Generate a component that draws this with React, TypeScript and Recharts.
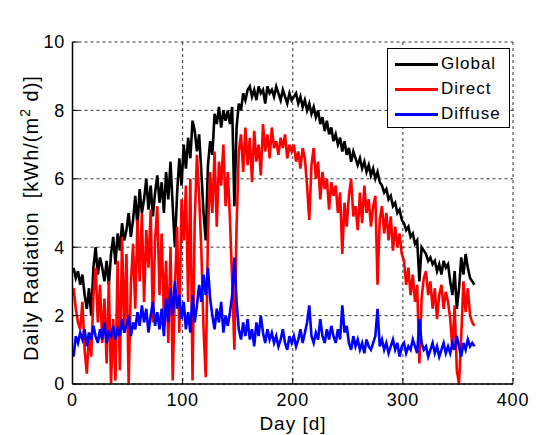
import { LineChart, Line, XAxis, YAxis, CartesianGrid } from "recharts";

// days sampled every second day (1, 3, ..., 365)
const days = Array.from({ length: 183 }, (_, i) => 2 * i + 1);

// Global radiation [kWh/(m2 d)]
const globalRad = [
  3.4, 3.1, 3.3, 2.9, 3.2, 2.6, 2.2, 2.8, 2.0, 3.4,
  4.0, 3.2, 3.7, 3.4, 3.0, 3.6, 2.9, 3.8, 4.3, 3.5,
  4.4, 3.9, 4.7, 4.2, 4.5, 5.0, 4.3, 4.8, 5.5, 4.6,
  5.7, 5.0, 5.4, 6.0, 5.1, 5.8, 4.9, 5.6, 6.1, 5.3,
  5.9, 5.0, 6.2, 5.4, 6.5, 5.2, 4.0, 5.6, 6.6, 5.8,
  7.0, 6.3, 7.2, 6.6, 7.7, 7.4, 6.8, 7.3, 6.2, 5.0,
  4.2, 6.4, 7.1, 6.7, 7.9, 7.6, 8.1, 7.5, 8.0, 7.7,
  8.0, 7.6, 8.1, 5.2, 7.5, 8.2, 8.0, 8.5, 8.3, 8.6,
  8.7, 8.4, 8.6, 8.3, 8.7, 8.5, 8.6, 8.2, 8.7, 8.5,
  8.6, 8.4, 8.7, 8.5, 8.3, 8.6, 8.4, 8.2, 8.5, 8.3,
  8.4, 8.5, 8.2, 8.4, 8.1, 8.3, 8.0, 8.2, 7.9, 8.1,
  7.8, 8.0, 7.6, 7.8, 7.4, 7.7, 7.3, 7.5, 7.1, 7.3,
  7.0, 7.2, 6.8, 7.1, 6.7, 6.9, 6.5, 6.8, 6.6, 6.4,
  6.6, 6.3, 6.5, 6.2, 6.4, 6.1, 6.3, 6.0, 6.2, 5.9,
  5.8, 5.6, 5.7, 5.4, 5.5, 5.2, 5.3, 5.0, 5.1, 4.8,
  4.7, 4.5, 4.6, 4.3, 4.4, 4.1, 4.2, 3.0, 4.0, 3.9,
  3.8, 3.6, 3.7, 3.5, 3.6, 3.3, 3.5, 3.2, 3.6, 3.4,
  3.5, 3.0, 2.6, 3.3, 2.2, 2.8, 3.7, 3.2, 3.8, 3.4,
  3.1, 3.0, 2.9,
];

// Direct radiation
const directRad = [
  2.8, 2.2, 1.8, 1.6, 2.4, 1.0, 0.3, 1.5, 0.8, 2.6,
  3.4, 1.8, 2.9, 1.2, 2.5, 0.6, 3.0, 0.0, 1.9, 0.1,
  3.6, 0.4, 4.3, 1.5, 3.8, 0.0, 2.9, 4.1, 2.2, 4.8,
  3.0, 5.0, 2.4, 4.5, 3.4, 5.1, 1.8, 4.2, 5.2, 2.6,
  4.4, 2.0, 3.6, 1.2, 4.0, 0.1, 2.8, 4.6, 1.5, 5.4,
  4.2, 5.8, 2.4, 6.0, 0.1, 4.8, 6.7, 5.5, 3.9, 1.6,
  0.2, 4.4, 6.2, 5.0, 6.8, 4.6, 6.5, 5.8, 7.0, 5.2,
  6.2, 4.8, 3.0, 1.0, 4.6, 6.8, 7.3, 6.2, 7.5, 6.4,
  7.2, 5.9, 7.4, 6.5, 7.0, 6.1, 7.6, 6.8, 7.3, 6.6,
  7.5, 6.9, 7.1, 6.7, 7.2, 6.9, 7.3, 6.6, 7.0, 6.8,
  7.0, 6.5, 6.8, 6.3, 6.9, 6.6, 5.8, 4.8, 6.4, 6.9,
  6.0, 6.5, 5.4, 6.2, 5.7, 6.0, 5.1, 5.9, 5.5, 5.8,
  5.0, 5.6, 3.8, 5.3, 4.6, 5.5, 6.0, 4.9, 5.2, 4.5,
  5.6, 4.7, 5.8, 5.0, 5.4, 4.6, 5.2, 5.5, 2.9, 4.8,
  5.2, 4.4, 5.0, 4.2, 4.9, 3.9, 4.6, 4.0, 4.4, 3.8,
  3.6, 2.9, 3.4, 2.6, 3.2, 2.4, 2.9, 0.6, 2.5, 3.1,
  3.3, 2.6, 3.0, 2.2, 2.8, 1.9, 2.6, 2.9, 2.2, 2.7,
  2.4, 1.9, 1.0, 2.3, 0.4, 0.0, 1.4, 3.0, 2.1, 2.8,
  2.0, 1.8, 1.7,
];

// Diffuse radiation
const diffuseRad = [
  0.8, 1.4, 1.2, 1.5, 1.3, 1.6, 1.1, 1.5, 1.3, 1.7,
  1.4, 1.2, 1.6, 1.3, 1.8, 1.2, 1.5, 1.4, 1.7, 1.3,
  1.6, 1.4, 1.9, 1.5, 1.7, 2.0, 1.4, 1.8, 1.6, 2.1,
  1.7, 2.3, 1.8, 2.2, 1.5, 2.0, 2.4, 1.7, 2.1, 1.6,
  2.2, 1.4, 2.5, 1.8, 2.8, 2.0, 3.0, 2.2, 2.6, 1.9,
  2.4, 1.6, 2.1, 1.5, 2.6, 1.8, 2.3, 2.9, 2.4, 3.2,
  2.6, 3.4, 2.5, 2.0, 1.6, 2.2, 1.8, 2.4, 1.5, 2.0,
  1.7, 2.1, 2.6, 3.7, 2.4, 1.6, 1.3, 1.8, 1.4, 1.9,
  1.3, 1.6, 1.1, 1.8, 1.4, 2.0, 1.5, 1.2, 1.6, 1.3,
  1.5, 1.2, 1.4, 1.1, 1.3, 1.6, 1.2, 1.0, 1.4, 1.2,
  1.4, 1.1, 1.3, 1.6, 1.2, 1.5, 1.8, 2.3, 1.4, 1.2,
  1.5, 1.3, 1.9, 1.4, 1.2, 1.6, 1.3, 1.7, 1.4, 1.2,
  1.6, 1.3, 2.3, 1.5, 1.7, 1.2, 1.0, 1.4, 1.1, 1.3,
  1.0, 1.2, 0.9, 1.3, 1.1, 1.0, 1.2, 1.4, 2.2, 1.1,
  1.3, 1.0, 1.2, 0.9, 1.1, 1.3, 1.0, 1.2, 0.8, 1.1,
  1.2, 0.9, 1.1, 1.0, 1.3, 1.1, 0.9, 1.9, 1.2, 1.0,
  1.1, 0.8, 1.0, 1.2, 0.9, 1.1, 0.8, 1.0, 1.2, 0.9,
  1.1, 0.9, 1.2, 1.0, 1.4, 1.1, 0.8, 1.2, 1.0, 1.3,
  1.1, 1.2, 1.1,
];

const xTicks = [0, 100, 200, 300, 400];
const yTicks = [0, 2, 4, 6, 8, 10];

const series = [
  { key: "global", name: "Global", color: "#000000" },
  { key: "direct", name: "Direct", color: "#ff0000" },
  { key: "diffuse", name: "Diffuse", color: "#0000ff" },
];

const data = days.map((day, i) => ({
  day,
  global: globalRad[i],
  direct: directRad[i],
  diffuse: diffuseRad[i],
}));

const FONT = "'Liberation Sans', Arial, Helvetica, sans-serif";
const tickStyle = { fontSize: 18, fill: "#000", fontFamily: FONT, letterSpacing: 0.8 };

const YLabel = () => (
  <text
    x={38}
    y={218}
    transform="rotate(-90, 38, 218)"
    textAnchor="middle"
    fontSize={20}
    letterSpacing={1}
    fontFamily={FONT}
    fill="#000"
  >
    {"Daily Radiation\u00a0\u00a0[kWh/(m"}
    <tspan dy={-8} fontSize={14}>2</tspan>
    <tspan dy={8}>{"\u00a0d)]"}</tspan>
  </text>
);

const XLabel = () => (
  <text x={293} y={430} textAnchor="middle" fontSize={19} letterSpacing={1} fontFamily={FONT} fill="#000">
    Day [d]
  </text>
);

const Title = () => (
  <text x={291} y={28} textAnchor="middle" fontSize={16} letterSpacing={0.8} fontFamily={FONT} fill="#000">
    ζ=0° &amp; θ=0°
  </text>
);

export default function App() {
  return (
    <div style={{ position: "absolute", left: 0, top: 0, width: 536, height: 435, background: "#fff" }}>
      <LineChart
        width={536}
        height={435}
        data={data}
        margin={{ top: 42, right: 23, bottom: 0, left: 0 }}
      >
        <CartesianGrid stroke="#000" strokeWidth={0.8} strokeDasharray="3 3" />
        <XAxis
          dataKey="day"
          type="number"
          domain={[0, 400]}
          ticks={xTicks}
          height={51}
          tick={tickStyle}
          tickSize={-6}
          tickMargin={15}
          axisLine={{ stroke: "#000", strokeWidth: 1.5 }}
          tickLine={{ stroke: "#000" }}
          label={<XLabel />}
        />
        <XAxis
          xAxisId="top"
          orientation="top"
          dataKey="day"
          type="number"
          domain={[0, 400]}
          ticks={xTicks}
          height={0}
          tickSize={-6}
          tickFormatter={() => ""}
          axisLine={{ stroke: "#000", strokeWidth: 1.5 }}
          tickLine={{ stroke: "#000" }}
          label={<Title />}
        />
        <YAxis
          type="number"
          domain={[0, 10]}
          ticks={yTicks}
          width={72.5}
          tick={tickStyle}
          tickSize={-6}
          tickMargin={13.5}
          axisLine={{ stroke: "#000", strokeWidth: 1.5 }}
          tickLine={{ stroke: "#000" }}
          label={<YLabel />}
        />
        <YAxis
          yAxisId="right"
          orientation="right"
          type="number"
          domain={[0, 10]}
          ticks={yTicks}
          width={0}
          tickSize={-6}
          tickFormatter={() => ""}
          axisLine={{ stroke: "#000", strokeWidth: 1.5 }}
          tickLine={{ stroke: "#000" }}
        />
        {series.map((s) => (
          <Line
            key={s.key}
            dataKey={s.key}
            name={s.name}
            type="linear"
            stroke={s.color}
            strokeWidth={2.6}
            dot={false}
            isAnimationActive={false}
          />
        ))}
      </LineChart>
      <div
        style={{
          position: "absolute",
          left: 387,
          top: 48,
          width: 123,
          height: 80,
          border: "1.5px solid #000",
          background: "#fff",
          fontFamily: FONT,
          fontSize: 17,
          letterSpacing: 1,
          boxSizing: "border-box",
        }}
      >
        {series.map((s, i) => (
          <div
            key={s.key}
            style={{ position: "absolute", left: 7, top: 4 + i * 25, height: 22, display: "flex", alignItems: "center" }}
          >
            <div style={{ width: 43, height: 3, background: s.color, marginRight: 3 }} />
            <span>{s.name}</span>
          </div>
        ))}
      </div>
    </div>
  );
}
